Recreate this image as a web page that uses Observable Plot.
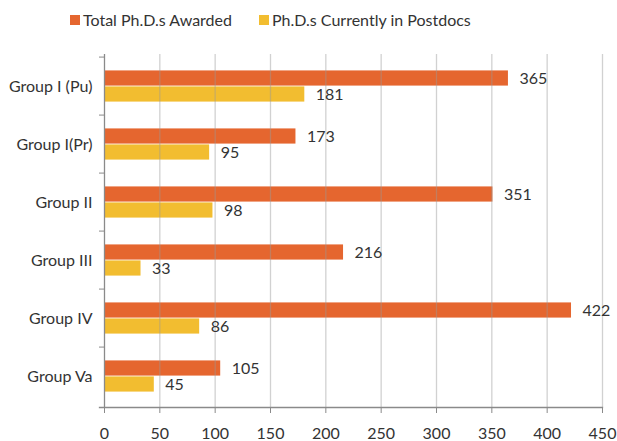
<!DOCTYPE html>
<html>
<head>
<meta charset="utf-8">
<script src="https://cdn.jsdelivr.net/npm/d3@7"></script>
<script src="https://cdn.jsdelivr.net/npm/@observablehq/plot@0.6"></script>
<style>
  html, body { margin: 0; padding: 0; background: #fff; }
  body { width: 617px; height: 441px; overflow: hidden; font-family: Lato, sans-serif; color: #333; }
  #legend { height: 40px; position: relative; font-size: 16px; }
  .item { position: absolute; top: 10px; display: flex; align-items: center; white-space: nowrap; }
  .sw { width: 10px; height: 10px; margin-right: 3px; }
</style>
</head>
<body>
<div id="legend"></div>
<div id="chart"></div>
<script>
const groups = ["Group I (Pu)", "Group I(Pr)", "Group II", "Group III", "Group IV", "Group Va"];
const totalAwarded = [365, 173, 351, 216, 422, 105];
const inPostdocs = [181, 95, 98, 33, 86, 45];
const seriesNames = ["Total Ph.D.s Awarded", "Ph.D.s Currently in Postdocs"];
const seriesColors = ["#E5662F", "#F2BD30"];
const xTicks = [0, 50, 100, 150, 200, 250, 300, 350, 400, 450];

const W = 617, H = 401, mt = 14, mb = 34, ml = 104, mr = 15;
const step = (H - mt - mb) / groups.length;
const barH = 16;

const totalData = groups.map((g, i) => ({group: g, value: totalAwarded[i]}));
const postData = groups.map((g, i) => ({group: g, value: inPostdocs[i]}));

// legend
const legend = document.getElementById("legend");
const lx = [70, 259];
seriesNames.forEach((n, i) => {
  const d = document.createElement("div");
  d.className = "item";
  d.style.left = lx[i] + "px";
  d.innerHTML = `<span class="sw" style="background:${seriesColors[i]}"></span><span>${n}</span>`;
  legend.appendChild(d);
});

const chart = Plot.plot({
  width: W, height: H,
  marginTop: mt, marginBottom: mb, marginLeft: ml, marginRight: mr,
  style: {fontFamily: "Lato, sans-serif", fontSize: "16px", color: "#333", background: "#fff"},
  x: {domain: [0, 450]},
  y: {domain: groups, padding: 0},
  marks: [
    Plot.barX(totalData, {x: "value", y: "group", fill: seriesColors[0], insetTop: step / 2 - barH, insetBottom: step / 2}),
    Plot.barX(postData, {x: "value", y: "group", fill: seriesColors[1], insetTop: step / 2, insetBottom: step / 2 - barH}),
    Plot.gridX(xTicks.filter(t => t > 0), {stroke: "#999", strokeOpacity: 0.45, strokeWidth: 1.3}),
    Plot.text(totalData, {x: "value", y: "group", text: d => String(d.value), dx: 11, dy: -barH / 2, textAnchor: "start", fill: "#333", fontSize: 16}),
    Plot.text(postData, {x: "value", y: "group", text: d => String(d.value), dx: 11, dy: barH / 2, textAnchor: "start", fill: "#333", fontSize: 16}),
    Plot.ruleX([0], {stroke: "#8a8a8a", strokeWidth: 1.3}),
    Plot.frame({anchor: "bottom", stroke: "#8a8a8a", strokeWidth: 1.3, insetLeft: -5}),
    Plot.axisX({ticks: xTicks, tickSize: 6, tickPadding: 14, stroke: "#8a8a8a", label: null, tickFormat: d => String(d), fontSize: 16}),
    Plot.axisY({tickSize: 0, tickPadding: 12, label: null, fontSize: 16}),
    Plot.axisY({tickSize: 5, tickFormat: null, dy: -step / 2, stroke: "#8a8a8a", label: null})
  ]
});
document.getElementById("chart").appendChild(chart);
</script>
</body>
</html>
